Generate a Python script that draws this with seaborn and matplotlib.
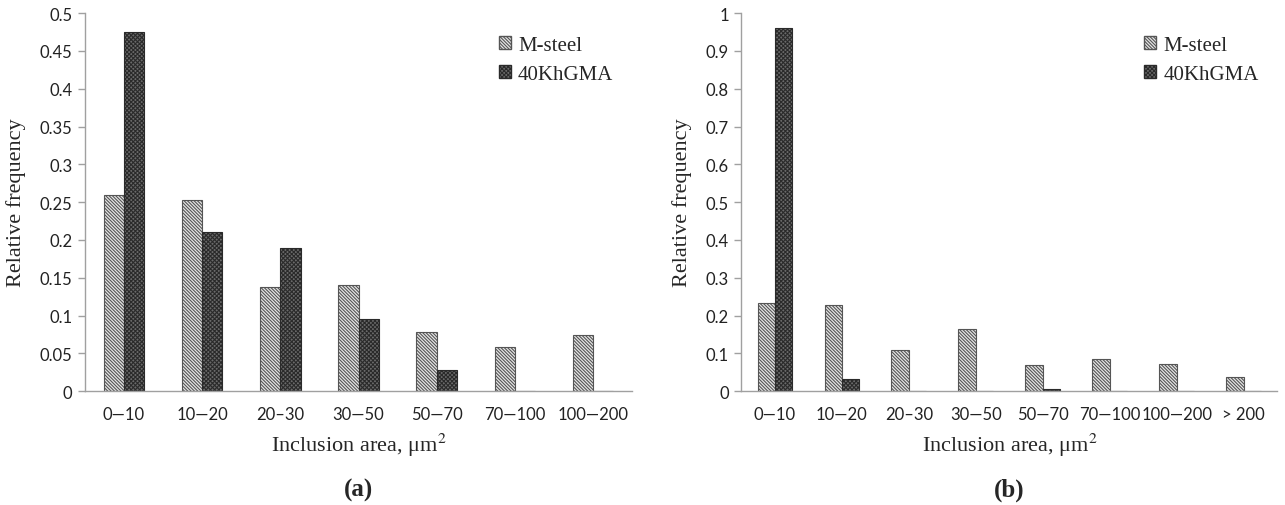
import pandas as pd
import matplotlib
matplotlib.use('Agg')
import matplotlib.pyplot as plt
from matplotlib.patches import Patch
import seaborn as sns

# (a)
cats_a = ['0\u201410', '10\u201420', '20\u201330', '30\u201450', '50\u201470', '70\u2014100', '100\u2014200']
msteel_a = [0.26, 0.253, 0.138, 0.14, 0.078, 0.059, 0.074]
khgma_a = [0.475, 0.21, 0.19, 0.095, 0.028, 0.0, 0.0]
yticks_a = [0, 0.05, 0.1, 0.15, 0.2, 0.25, 0.3, 0.35, 0.4, 0.45, 0.5]

# (b)
cats_b = ['0\u201410', '10\u201420', '20\u201330', '30\u201450', '50\u201470', '70\u2014100', '100\u2014200', '> 200']
msteel_b = [0.233, 0.227, 0.11, 0.165, 0.068, 0.086, 0.072, 0.038]
khgma_b = [0.962, 0.032, 0.0, 0.0, 0.006, 0.0, 0.0, 0.0]
yticks_b = [0, 0.1, 0.2, 0.3, 0.4, 0.5, 0.6, 0.7, 0.8, 0.9, 1]

series = ['M-steel', '40KhGMA']

sns.set_theme(style='white')
plt.rcParams['font.family'] = ['Liberation Serif', 'DejaVu Serif']
plt.rcParams['mathtext.fontset'] = 'stix'
plt.rcParams['hatch.linewidth'] = 0.8

fig = plt.figure(figsize=(12.85, 5.06), dpi=100)
ax1 = fig.add_axes([0.066, 0.225, 0.426, 0.747])
ax2 = fig.add_axes([0.577, 0.225, 0.417, 0.747])

light_hatch = '\\' * 10
dark_hatch = 'x' * 8
light_face, light_edge = '#e6e6e6', '#555555'
dark_face, dark_edge = '#6a6a6a', '#2a2a2a'


def draw(ax, cats, m, k, yticks, tag):
    df = pd.DataFrame({
        'area': cats * 2,
        'freq': m + k,
        'steel': [series[0]] * len(cats) + [series[1]] * len(cats),
    })
    sns.barplot(data=df, x='area', y='freq', hue='steel', order=cats,
                hue_order=series, palette=[light_face, dark_face], width=0.52,
                saturation=1, edgecolor='#444444', linewidth=0.8, legend=False,
                ax=ax)
    for bar in ax.containers[0]:
        bar.set_hatch(light_hatch)
        bar.set_edgecolor(light_edge)
    for bar in ax.containers[1]:
        bar.set_hatch(dark_hatch)
        bar.set_edgecolor(dark_edge)

    n = len(cats)
    ax.set_xlim(-0.5, n - 0.5)
    ax.set_ylim(0, yticks[-1])
    ax.set_yticks(yticks)
    ax.set_yticklabels(['{:g}'.format(t) for t in yticks], family='Lato',
                       fontsize=12, color='#222222')
    ax.set_xticks(range(n))
    ax.set_xticklabels(cats, family='Lato', fontsize=12, color='#222222')
    ax.set_xticks([i - 0.5 for i in range(n + 1)], minor=True)
    ax.tick_params(axis='x', which='major', length=0, pad=11)
    ax.tick_params(axis='x', which='minor', length=6, color='#a0a0a0', width=1)
    ax.tick_params(axis='y', which='major', length=5, color='#a0a0a0', width=1,
                   left=True, pad=4)
    sns.despine(ax=ax)
    for s in ['left', 'bottom']:
        ax.spines[s].set_color('#a0a0a0')
        ax.spines[s].set_linewidth(1)
    ax.set_ylabel('Relative frequency', fontsize=16, labelpad=10)
    ax.set_xlabel('Inclusion area, \u03bcm$^{2}$', fontsize=16, labelpad=6)

    handles = [Patch(facecolor=light_face, edgecolor=light_edge, hatch=light_hatch,
                     label=series[0]),
               Patch(facecolor=dark_face, edgecolor=dark_edge, hatch=dark_hatch,
                     label=series[1])]
    ax.legend(handles=handles, loc='upper right', bbox_to_anchor=(1.0, 0.99),
              frameon=False, fontsize=15, handlelength=0.55, handleheight=0.55,
              handletextpad=0.35, labelspacing=0.5)
    ax.text(0.5, -0.26, tag, transform=ax.transAxes, ha='center', va='center',
            fontsize=18, fontweight='bold')


draw(ax1, cats_a, msteel_a, khgma_a, yticks_a, '(a)')
draw(ax2, cats_b, msteel_b, khgma_b, yticks_b, '(b)')

fig.savefig('out.png', dpi=100)
